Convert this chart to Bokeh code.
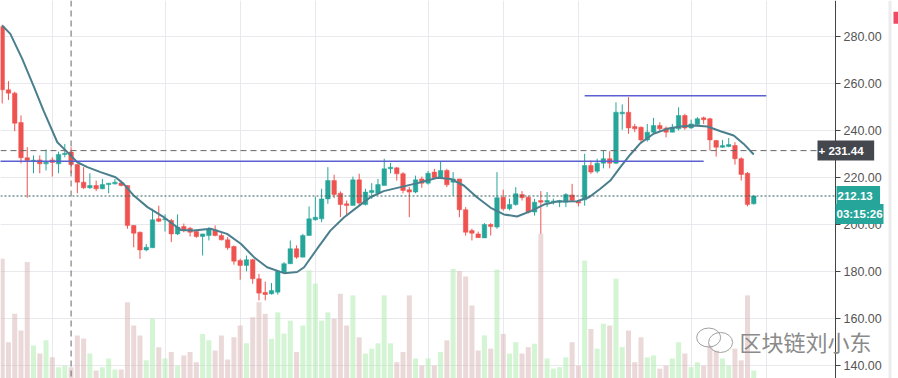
from bokeh.plotting import figure
from bokeh.models import (ColumnDataSource, Range1d, FixedTicker, PrintfTickFormatter,
                          Span, Label, Grid, LinearAxis, BoxAnnotation)
from bokeh.embed import file_html
from bokeh.resources import INLINE

# ---------------- data ----------------
opens = [284.2, 257.3, 255.9, 243.4, 228.4, 227.0, 227.5, 225.8, 227.5, 225.8,
         229.8, 230.8, 225.5, 218.0, 215.6, 216.6, 215.2, 217.0, 217.3, 217.7,
         216.6, 199.6, 196.7, 189.2, 190.1, 202.4, 202.0, 201.7, 196.0, 199.1,
         198.4, 197.0, 194.9, 195.3, 197.7, 195.3, 193.5, 190.6, 184.7, 182.6,
         185.0, 176.9, 171.1, 170.5, 171.2, 179.7, 183.3, 189.7, 186.1, 195.3,
         202.0, 202.4, 210.9, 218.7, 213.3, 208.8, 208.1, 219.0, 208.5, 213.6,
         213.3, 216.6, 223.7, 224.1, 221.6, 214.8, 213.8, 219.4, 217.6, 222.3,
         219.9, 223.0, 218.0, 219.4, 206.3, 197.4, 196.0, 194.3, 200.0, 198.9,
         211.6, 206.7, 208.5, 212.8, 211.6, 205.3, 210.2, 209.5, 209.8, 209.5,
         209.5, 212.6, 209.8, 210.5, 225.1, 222.7, 226.1, 228.0, 226.1, 247.1,
         247.8, 241.7, 241.4, 236.0, 239.3, 242.1, 241.0, 239.3, 240.7, 246.4,
         241.1, 242.6, 245.4, 245.0, 235.7, 232.9, 233.2, 233.6, 228.0, 221.8,
         208.8]
highs = [285.0, 261.0, 256.5, 246.4, 232.9, 229.4, 229.4, 231.9, 228.6, 231.0,
         234.3, 232.9, 225.8, 224.4, 221.8, 218.7, 219.4, 217.6, 219.4, 218.7,
         216.8, 199.8, 197.0, 191.7, 206.7, 208.0, 204.3, 202.4, 204.3, 200.4,
         199.0, 197.7, 196.0, 198.9, 199.6, 196.3, 194.7, 191.0, 185.4, 186.8,
         185.4, 179.0, 175.7, 175.1, 180.4, 184.0, 193.2, 191.1, 196.0, 207.7,
         211.9, 215.2, 224.4, 221.2, 214.1, 210.2, 220.4, 221.6, 215.2, 217.6,
         219.4, 228.0, 226.2, 224.4, 222.3, 216.0, 220.8, 220.4, 222.8, 223.7,
         226.9, 223.7, 222.3, 219.4, 207.4, 198.2, 197.0, 200.6, 200.6, 222.3,
         214.8, 211.0, 215.9, 214.2, 212.3, 210.9, 214.2, 213.8, 211.0, 210.5,
         213.3, 217.3, 210.5, 230.1, 227.2, 228.0, 231.5, 231.2, 252.0, 251.1,
         254.2, 242.8, 241.7, 242.8, 245.4, 243.5, 241.7, 242.8, 249.9, 247.1,
         244.6, 245.7, 245.9, 245.4, 236.0, 236.0, 236.8, 235.0, 228.6, 222.3,
         212.3]
lows = [251.5, 253.0, 239.7, 226.0, 211.4, 221.8, 221.8, 223.0, 220.4, 221.8,
        228.6, 221.8, 213.3, 215.2, 215.2, 214.2, 215.0, 213.3, 217.0, 216.2,
        198.2, 190.3, 185.4, 188.6, 190.1, 201.0, 197.0, 192.5, 195.5, 196.7,
        194.9, 194.3, 186.8, 193.2, 195.0, 193.2, 189.2, 182.9, 176.5, 180.1,
        174.8, 167.7, 167.7, 170.2, 170.2, 179.3, 183.3, 185.4, 186.1, 195.3,
        201.7, 201.0, 208.8, 211.2, 203.1, 203.5, 208.1, 208.1, 208.1, 210.9,
        213.0, 216.6, 221.8, 218.7, 213.3, 203.1, 213.3, 215.6, 217.0, 219.4,
        219.4, 215.9, 212.3, 203.1, 195.3, 193.2, 194.3, 194.3, 195.3, 198.2,
        205.9, 206.0, 208.0, 210.2, 204.7, 203.8, 196.0, 207.4, 208.5, 207.4,
        207.4, 209.8, 207.7, 208.0, 221.6, 221.8, 223.9, 223.9, 225.7, 240.3,
        238.6, 239.3, 234.6, 235.3, 238.6, 239.7, 237.1, 239.3, 240.0, 240.3,
        240.7, 241.8, 242.8, 231.5, 228.9, 232.6, 232.9, 225.5, 218.7, 207.7,
        208.5]
closes = [257.3, 255.9, 243.1, 228.4, 227.2, 227.4, 225.8, 226.5, 226.4, 229.8,
          230.3, 225.5, 218.0, 215.6, 216.6, 215.2, 217.0, 217.6, 218.0, 216.6,
          199.6, 196.3, 189.2, 190.3, 202.0, 201.4, 202.4, 196.0, 198.9, 197.4,
          196.7, 194.9, 196.0, 197.7, 195.3, 193.5, 190.1, 184.4, 182.6, 185.0,
          176.9, 170.8, 170.2, 171.9, 180.1, 183.3, 189.7, 186.1, 195.3, 202.4,
          203.1, 210.9, 218.7, 212.8, 208.5, 208.1, 219.0, 209.1, 213.8, 214.5,
          217.0, 223.7, 224.4, 221.6, 214.5, 213.8, 219.0, 217.6, 221.8, 219.9,
          223.0, 216.9, 219.4, 206.3, 196.7, 196.3, 194.4, 200.0, 199.1, 211.4,
          206.7, 208.5, 213.1, 211.4, 205.3, 209.5, 209.5, 210.2, 210.0, 210.2,
          212.8, 210.2, 209.1, 225.1, 222.3, 226.1, 228.0, 226.1, 247.8, 247.8,
          241.1, 240.7, 236.0, 239.3, 242.1, 240.7, 239.3, 241.4, 246.4, 241.1,
          242.8, 245.0, 244.6, 236.0, 232.9, 233.6, 234.0, 228.0, 221.3, 208.5,
          212.13]
volumes = [317, 96, 171, 127, 308, 87, 66, 101, 56, 30,
           34, 30, 114, 106, 66, 21, 30, 53, 24, 24,
           202, 140, 114, 48, 158, 83, 53, 70, 34, 61,
           70, 43, 118, 101, 74, 114, 50, 109, 140, 93,
           162, 202, 171, 105, 175, 119, 153, 70, 140, 286,
           251, 153, 175, 158, 224, 140, 220, 109, 66, 79,
           93, 220, 93, 43, 70, 220, 53, 34, 53, 34,
           70, 101, 290, 284, 270, 193, 74, 114, 79, 288,
           118, 66, 96, 66, 83, 92, 383, 53, 26, 30,
           56, 96, 34, 312, 131, 79, 145, 140, 264, 83,
           127, 43, 109, 56, 61, 26, 34, 53, 96, 66,
           30, 43, 34, 87, 74, 53, 34, 79, 48, 220,
           21]

# moving average, read at points along the curve (x = bar number)
ma_pos = [0, 1.3, 3.2, 5.1, 6.6, 8.8, 10.4, 12.0, 13.6, 15.7, 18.1, 19.4, 21.0,
          23.2, 25.8, 28.5, 30.6, 33.3, 35.9, 38.1, 40.2, 42.3, 45.0, 47.1, 48.2,
          50.3, 52.4, 54.6, 56.7, 58.8, 60.9, 63.6, 66.3, 69.5, 71.6, 73.7, 75.8,
          78.0, 80.1, 82.2, 84.4, 86.5, 88.6, 91.8, 93.7, 95.5, 97.1, 98.7, 100.3,
          101.9, 104.0, 106.2, 108.3, 110.4, 112.6, 114.7, 116.8, 118.4, 120.0]
ma_val = [284.7, 281.1, 270.5, 258.4, 248.5, 235.0, 230.8, 226.5, 224.4, 222.3,
          220.1, 217.3, 212.3, 207.4, 203.1, 197.7, 197.4, 198.2, 196.0, 191.8,
          186.1, 181.8, 179.3, 179.8, 181.8, 189.7, 197.4, 203.1, 207.4, 211.6,
          214.2, 215.9, 217.6, 219.9, 219.4, 216.6, 211.6, 207.1, 204.3, 203.4,
          205.7, 208.5, 209.8, 209.9, 211.6, 215.2, 218.7, 224.4, 229.8, 234.6,
          238.6, 240.7, 241.7, 242.1, 241.7, 239.7, 237.9, 234.3, 229.8]

price_ticks = [140, 160, 180, 200, 220, 240, 260, 280]
time_grid = [8, 26, 38, 50, 68, 80, 92, 110, 122]      # date grid lines (bar number)

level_price = [226.9, 254.8]       # drawn horizontal lines
level_start = [-1, 93]
level_end = [112, 122]

cross_bar = 11
cross_price = 231.44
last_price = 212.13
countdown = "03:15:26"
watermark = "区块链刘小东"

# ---------------- layout / styling ----------------
W, H = 898, 378
AXIS_PX = 835            # pixel column of the price scale
BAR_PX = 6.263           # pixel width of one bar slot
X0 = -0.271
X1 = X0 + W / BAR_PX
AXIS_X = X0 + AXIS_PX / BAR_PX

UP, DOWN = "#26a69a", "#ef5350"
VOL_UP, VOL_DOWN = "#a9ecaa", "#d8b4b4"
GRID = "#e9e9ed"
FONT = "Liberation Sans"

idx = list(range(len(closes)))
up = [c >= o for o, c in zip(opens, closes)]
src = ColumnDataSource(dict(
    x=idx, open=opens, high=highs, low=lows, close=closes, volume=volumes,
    top=[max(o, c) for o, c in zip(opens, closes)],
    bot=[min(o, c) for o, c in zip(opens, closes)],
    color=[UP if u else DOWN for u in up],
    vcolor=[VOL_UP if u else VOL_DOWN for u in up],
))

p = figure(width=W, height=H, output_backend="svg", toolbar_location=None,
           x_range=Range1d(X0, X1), y_range=Range1d(134.47, 295.32),
           x_axis_location=None, y_axis_location=None,
           min_border=0, outline_line_color=None,
           background_fill_color="white", border_fill_color="white")
p.extra_y_ranges = {"vol": Range1d(0, 1000)}

# grids
p.xgrid.visible = False
p.ygrid.visible = False
p.add_layout(Grid(dimension=0, ticker=FixedTicker(ticks=time_grid),
                  grid_line_color=GRID, grid_line_width=1), "center")
p.add_layout(Grid(dimension=1, ticker=FixedTicker(ticks=price_ticks),
                  grid_line_color=GRID, grid_line_width=1), "center")

# volume
p.vbar(x="x", top="volume", bottom=0, width=0.8, y_range_name="vol",
       fill_color="vcolor", fill_alpha=0.5, line_color=None, source=src)

# candles
p.segment(x0="x", x1="x", y0="low", y1="high", line_color="color", line_width=1, source=src)
p.vbar(x="x", top="top", bottom="bot", width=0.72, fill_color="color",
       line_color="color", line_width=0.5, source=src)

# moving average
p.line(ma_pos, ma_val, line_color="#4a7f8d", line_width=2)

# drawn horizontal levels
p.segment(x0=level_start, x1=level_end, y0=level_price, y1=level_price,
          line_color="#5a60d2", line_width=1.5)

# crosshair & last price line
p.add_layout(Span(location=cross_bar, dimension="height", line_color="#666666",
                  line_dash="6 4", line_width=1))
p.add_layout(Span(location=cross_price, dimension="width", line_color="#666666",
                  line_dash="6 4", line_width=1))
p.add_layout(Span(location=last_price, dimension="width", line_color="#2f5f5a",
                  line_dash="2 2", line_width=1))

# white price-scale area
p.add_layout(BoxAnnotation(left=AXIS_X, fill_color="white", fill_alpha=1.0,
                           line_color=None, level="annotation"))
p.add_layout(Span(location=889.5, location_units="screen", dimension="height",
                  line_color="#ececec", line_width=3, level="annotation"))
p.add_layout(BoxAnnotation(left=893, right=898, top=285.4, bottom=290.5,
                           left_units="screen", right_units="screen",
                           fill_color="#ee4a66", fill_alpha=1.0, line_color=None,
                           level="annotation"))

# price scale
ax = LinearAxis(fixed_location=AXIS_X, ticker=FixedTicker(ticks=price_ticks),
                formatter=PrintfTickFormatter(format="%.2f"))
ax.level = "overlay"
ax.axis_line_color = "#444444"
ax.major_tick_line_color = "#444444"
ax.major_tick_out = 5
ax.major_tick_in = 0
ax.minor_tick_line_color = None
ax.major_label_standoff = 3
ax.major_label_text_font = FONT
ax.major_label_text_font_size = "12.5px"
ax.major_label_text_color = "#555555"
p.add_layout(ax, "right")

# axis price tags  (padding = (vertical, horizontal))
tag = dict(x_units="screen", y_units="data", anchor="center_left", text_font=FONT,
           text_font_size="11.5px", text_font_style="bold", text_color="white",
           padding=(1, 4), level="overlay")
p.add_layout(Label(x=817, y=cross_price, text="+    " + f"{cross_price:.2f}",
                   background_fill_color="#45474e", **tag))
p.add_layout(Label(x=836, y=last_price, text=f" {last_price:.2f} ",
                   background_fill_color=UP, **tag))
p.add_layout(Label(x=835, y=last_price, y_offset=-18, text=countdown,
                   background_fill_color=UP, **tag))

# watermark
p.ellipse(x=[112.8, 114.7], y=[151.9, 149.8], width=[24, 24], height=[19, 20],
          width_units="screen", height_units="screen", fill_color=None,
          line_color="#a0a0a0", line_width=1)
p.add_layout(Label(x=739, x_units="screen", y=38, y_units="screen", text=watermark,
                   anchor="center_left", text_font="Noto Sans CJK SC", text_font_size="22px",
                   text_color="#8a8a8a", level="overlay"))

open("out.html", "w").write(file_html(p, INLINE))
